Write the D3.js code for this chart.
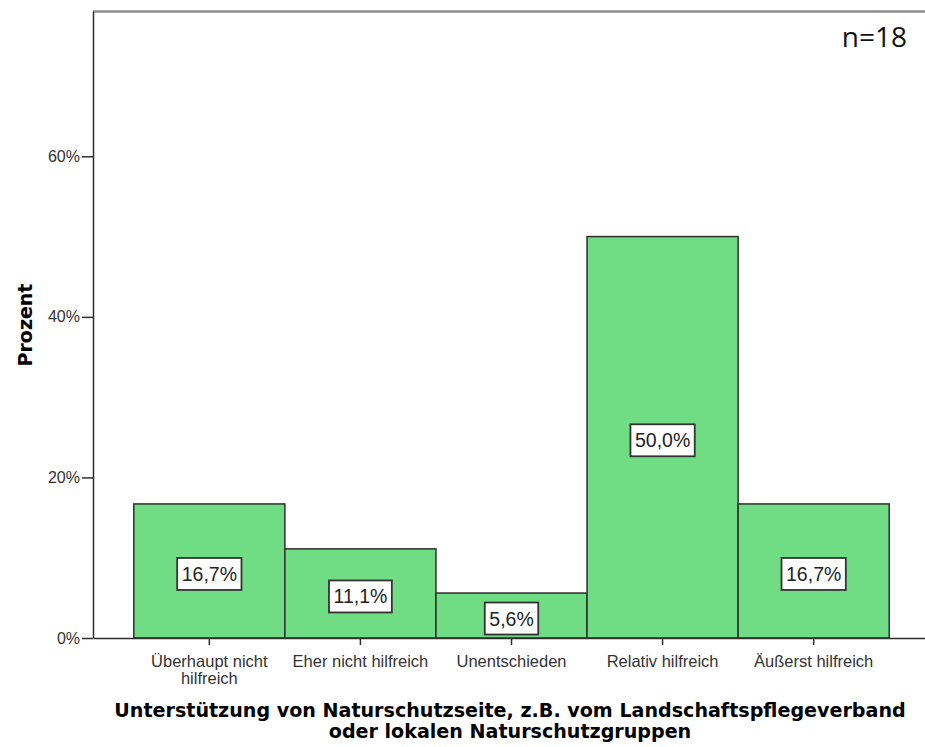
<!DOCTYPE html>
<html><head><meta charset="utf-8">
<script src="https://d3js.org/d3.v7.min.js"></script>
<style>body{margin:0;background:#fff}</style>
</head><body>
<svg id="c" width="925" height="747"></svg>
<script>
const categories = ["Überhaupt nicht hilfreich", "Eher nicht hilfreich", "Unentschieden", "Relativ hilfreich", "Äußerst hilfreich"];
const categoryLines = [["Überhaupt nicht", "hilfreich"], ["Eher nicht hilfreich"], ["Unentschieden"], ["Relativ hilfreich"], ["Äußerst hilfreich"]];
const values = [16.7, 11.1, 5.6, 50.0, 16.7];
const valueLabels = ["16,7%", "11,1%", "5,6%", "50,0%", "16,7%"];
const yTicks = [0, 20, 40, 60];
const yTitle = "Prozent";
const xTitleLines = ["Unterstützung von Naturschutzseite, z.B. vom Landschaftspflegeverband", "oder lokalen Naturschutzgruppen"];
const note = "n=18";

(function() {
const svg = d3.select("#c");
const pl = 93, pr = 930, pt = 11, pb = 638;
const x = d3.scaleBand().domain(categories).range([pl, pr]).paddingInner(0).paddingOuter(0.27);
const y = d3.scaleLinear().domain([0, 78.1]).range([pb, pt]);

svg.append("line").attr("x1", pl).attr("x2", 925).attr("y1", pt + 0.5).attr("y2", pt + 0.5)
  .attr("stroke", "#8c8c8c").attr("stroke-width", 2.5);

svg.selectAll("rect.bar").data(values).enter().append("rect")
  .attr("x", (d, i) => x(categories[i]))
  .attr("y", d => y(d))
  .attr("width", x.bandwidth())
  .attr("height", d => pb - y(d))
  .attr("fill", "#70dc84").attr("stroke", "#2f2f2f").attr("stroke-width", 1.5);

const yAxis = svg.append("g").attr("transform", `translate(${pl},0)`)
  .call(d3.axisLeft(y).tickValues(yTicks).tickFormat(d => d + "%").tickSize(11).tickSizeOuter(0).tickPadding(2));
yAxis.select(".domain").attr("stroke", "#2f2f2f").attr("stroke-width", 1.5);
yAxis.selectAll(".tick line").attr("stroke", "#2f2f2f").attr("stroke-width", 1.5);
yAxis.selectAll(".tick text").attr("font-family", "Liberation Sans, Arial, sans-serif").attr("font-size", 16).attr("fill", "#333");

const xAxis = svg.append("g").attr("transform", `translate(0,${pb})`)
  .call(d3.axisBottom(x).tickSize(7).tickSizeOuter(0).tickFormat(""));
xAxis.select(".domain").attr("stroke", "#2f2f2f").attr("stroke-width", 1.5);
xAxis.selectAll(".tick line").attr("stroke", "#2f2f2f").attr("stroke-width", 1.5);
xAxis.selectAll(".tick").each(function(d, i) {
  const t = d3.select(this).append("text").attr("fill", "#333")
    .attr("font-family", "Liberation Sans, Arial, sans-serif").attr("font-size", 16.5)
    .attr("text-anchor", "middle");
  categoryLines[i].forEach((ln, j) => t.append("tspan").attr("x", 0).attr("y", 29 + j * 16.5).text(ln));
});

values.forEach((v, i) => {
  const cx = x(categories[i]) + x.bandwidth() / 2;
  const cy = (y(v) + pb) / 2 + 3;
  const g = svg.append("g").attr("transform", `translate(${cx},${cy})`);
  const t = g.append("text").attr("text-anchor", "middle").attr("dy", "0.36em")
    .attr("font-family", "Liberation Sans, Arial, sans-serif").attr("font-size", 19.5).attr("fill", "#222")
    .text(valueLabels[i]);
  const bb = t.node().getBBox();
  g.insert("rect", "text").attr("x", bb.x - 4.5).attr("y", -16).attr("width", bb.width + 9).attr("height", 32)
    .attr("fill", "#fff").attr("stroke", "#333").attr("stroke-width", 1.8);
});

svg.append("text").attr("transform", `translate(32,325) rotate(-90)`)
  .attr("text-anchor", "middle").attr("font-family", "DejaVu Sans, sans-serif")
  .attr("font-weight", "bold").attr("font-size", 19).attr("fill", "#000").text(yTitle);

xTitleLines.forEach((ln, j) => {
  svg.append("text").attr("x", 510).attr("y", 717 + j * 21).attr("text-anchor", "middle")
    .attr("font-family", "DejaVu Sans, sans-serif").attr("font-weight", "bold").attr("font-size", 19.1)
    .attr("fill", "#000").text(ln);
});

svg.append("text").attr("x", 907).attr("y", 47).attr("text-anchor", "end")
  .attr("font-family", "Open Sans, sans-serif").attr("font-size", 28).attr("fill", "#111").text(note);
})();
</script>
</body></html>
